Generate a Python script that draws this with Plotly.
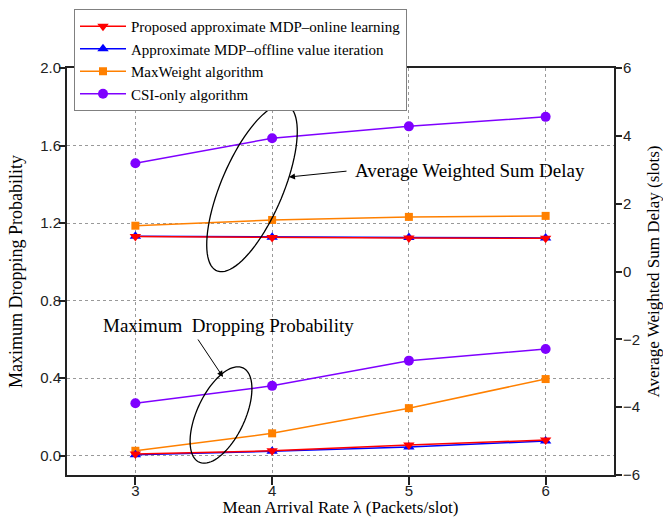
import numpy as np
import plotly.graph_objects as go

# ---- data ----
arrival_rate = [3, 4, 5, 6]
series_names = ["Proposed approximate MDP\u2013online learning",
                "Approximate MDP\u2013offline value iteration",
                "MaxWeight algorithm",
                "CSI-only algorithm"]
# Average weighted sum delay (slots), right axis
delay_online = [1.03, 1.00, 0.99, 0.98]
delay_offline = [1.04, 1.01, 1.00, 0.99]
delay_maxweight = [1.35, 1.52, 1.61, 1.64]
delay_csi = [3.19, 3.93, 4.28, 4.56]
# Maximum dropping probability, left axis
drop_online = [0.008, 0.025, 0.055, 0.080]
drop_offline = [0.005, 0.022, 0.045, 0.075]
drop_maxweight = [0.025, 0.115, 0.245, 0.395]
drop_csi = [0.27, 0.36, 0.49, 0.55]
left_ticks = [0.0, 0.4, 0.8, 1.2, 1.6, 2.0]
right_ticks = [-6, -4, -2, 0, 2, 4, 6]

W, H = 663, 517
ML, MR, MT, MB = 67, 49, 68, 42
PW, PH = W - ML - MR, H - MT - MB

def px(x):
    return (x - ML) / PW

def py(y):
    return (H - MB - y) / PH

def ellipse_path(cx, cy, a, b, tilt_deg, n=90):
    t = np.linspace(0, 2 * np.pi, n)
    th = np.deg2rad(tilt_deg)
    ux, uy = np.sin(th), -np.cos(th)
    vx, vy = np.cos(th), np.sin(th)
    xs = cx + a * np.cos(t) * ux + b * np.sin(t) * vx
    ys = cy + a * np.cos(t) * uy + b * np.sin(t) * vy
    pts = [f"{px(x):.5f},{py(y):.5f}" for x, y in zip(xs, ys)]
    return "M" + " L".join(pts) + " Z"

RED, BLUE, ORANGE, PURPLE = "#FF0000", "#0000FF", "#FF8000", "#7F00FF"

fig = go.Figure()

specs = [
    (series_names[3], delay_csi, drop_csi, PURPLE, "circle", 10, 4),
    (series_names[2], delay_maxweight, drop_maxweight, ORANGE, "square", 8, 3),
    (series_names[1], delay_offline, drop_offline, BLUE, "triangle-up", 10, 2),
    (series_names[0], delay_online, drop_online, RED, "triangle-down", 10, 1),
]
for name, dly, drp, col, sym, sz, rank in specs:
    fig.add_trace(go.Scatter(x=arrival_rate, y=dly, yaxis="y2", name=name,
                             mode="lines+markers", legendgroup=name, legendrank=rank,
                             line=dict(color=col, width=1.5),
                             marker=dict(color=col, symbol=sym, size=sz, line=dict(width=0)),
                             showlegend=True))
    fig.add_trace(go.Scatter(x=arrival_rate, y=drp, yaxis="y", name=name,
                             mode="lines+markers", legendgroup=name, legendrank=rank,
                             line=dict(color=col, width=1.5),
                             marker=dict(color=col, symbol=sym, size=sz, line=dict(width=0)),
                             showlegend=False))

sans = "Liberation Sans, Arial, sans-serif"
serif = "Liberation Serif, Times New Roman, serif"

fig.update_layout(
    width=W, height=H,
    margin=dict(l=ML, r=MR, t=MT, b=MB, autoexpand=False),
    paper_bgcolor="white", plot_bgcolor="white",
    showlegend=True,
    legend=dict(x=px(74), y=py(9), xanchor="left", yanchor="top",
                bgcolor="white", bordercolor="#808080", borderwidth=1,
                font=dict(family=serif, size=15, color="black"),
                itemwidth=46, tracegroupgap=0),
    xaxis=dict(range=[2.5, 6.5], tickvals=arrival_rate, ticktext=[str(v) for v in arrival_rate],
               showgrid=True, gridcolor="#999999", griddash="dot", gridwidth=1,
               showline=True, linecolor="#222222", linewidth=2, mirror=True,
               ticks="outside", ticklen=8, tickwidth=1.5, tickcolor="#222222",
               ticklabelstandoff=-7,
               tickfont=dict(family=sans, size=15, color="#222222"),
               zeroline=False, automargin=False,
               title=dict(text="Mean Arrival Rate \u03bb (Packets/slot)",
                          font=dict(family=serif, size=17, color="black"), standoff=3)),
    yaxis=dict(range=[-0.1, 2.0], tickvals=left_ticks, tickformat=".1f",
               showgrid=True, gridcolor="#999999", griddash="dot", gridwidth=1,
               showline=True, linecolor="#222222", linewidth=2,
               ticks="outside", ticklen=6, tickwidth=1.5, tickcolor="#222222",
               ticklabelstandoff=-5,
               tickfont=dict(family=sans, size=15, color="#222222"),
               zeroline=False, automargin=False,
               title=dict(text="Maximum Dropping Probability",
                          font=dict(family=serif, size=18, color="black"), standoff=13)),
    yaxis2=dict(range=[-6, 6], tickvals=right_ticks, overlaying="y", side="right",
                showgrid=False, showline=True, linecolor="#222222", linewidth=2,
                ticks="outside", ticklen=6, tickwidth=1.5, tickcolor="#222222",
                ticklabelstandoff=-2,
                tickfont=dict(family=sans, size=15, color="#222222"),
                zeroline=False, automargin=False,
                title=dict(text="Average Weighted Sum Delay (slots)",
                           font=dict(family=serif, size=17, color="black"), standoff=12)),
    shapes=[
        dict(type="path", xref="paper", yref="paper",
             path=ellipse_path(252, 188, 90, 31, 23), line=dict(color="black", width=1.3)),
        dict(type="path", xref="paper", yref="paper",
             path=ellipse_path(221, 415, 52, 24, 25), line=dict(color="black", width=1.3)),
    ],
    annotations=[
        dict(xref="paper", yref="paper", x=px(289), y=py(177), axref="pixel", ayref="pixel",
             ax=59, ay=-6, text="", showarrow=True, arrowhead=2, arrowsize=1.2,
             arrowwidth=1, arrowcolor="black"),
        dict(xref="paper", yref="paper", x=px(223), y=py(377), axref="pixel", ayref="pixel",
             ax=-26, ay=-39, text="", showarrow=True, arrowhead=2, arrowsize=1.2,
             arrowwidth=1, arrowcolor="black"),
        dict(xref="paper", yref="paper", x=px(353), y=py(170), xanchor="left", yanchor="middle",
             text="Average Weighted Sum Delay", showarrow=False,
             font=dict(family=serif, size=19, color="black")),
        dict(xref="paper", yref="paper", x=px(101), y=py(325), xanchor="left", yanchor="middle",
             text="Maximum&nbsp; Dropping Probability", showarrow=False,
             font=dict(family=serif, size=19, color="black")),
    ],
)

fig.write_html("out.html", config={"displayModeBar": False},
               post_script="document.body.style.margin='0';document.body.style.padding='0';")
